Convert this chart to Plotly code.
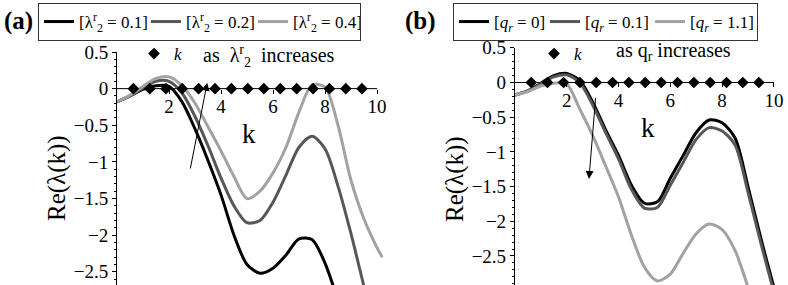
import plotly.graph_objects as go

# ---------------- data ----------------
k_grid = [0, 0.5, 1, 1.5, 2, 2.5, 3, 3.5, 4, 4.5, 5, 5.5, 6, 6.5, 7, 7.5, 8, 8.5, 9, 9.5, 10, 10.2]

# panel (a): lambda_2^r = 0.1, 0.2, 0.4
a_labels = ["[λ<sup>r</sup><sub>2</sub> = 0.1]", "[λ<sup>r</sup><sub>2</sub> = 0.2]", "[λ<sup>r</sup><sub>2</sub> = 0.4]"]
a_l01 = [-0.18, -0.10, -0.01, 0.04, 0.03, -0.18, -0.55, -0.98, -1.45, -2.00, -2.40, -2.52, -2.45, -2.27,
         -2.05, -2.06, -2.38, -2.88, -3.30, -3.70, -4.10, -4.20]
a_l02 = [-0.18, -0.10, 0.01, 0.10, 0.10, -0.06, -0.38, -0.78, -1.22, -1.60, -1.83, -1.80, -1.55, -1.18,
         -0.80, -0.65, -0.82, -1.33, -1.98, -2.70, -3.40, -3.60]
a_l04 = [-0.18, -0.09, 0.03, 0.14, 0.16, 0.04, -0.20, -0.52, -0.85, -1.20, -1.50, -1.40, -1.15, -0.80,
         -0.32, 0.05, 0.02, -0.50, -1.25, -1.78, -2.17, -2.30]

# panel (b): q_r = 0, 0.1, 1.1
b_labels = ["[<i>q<sub>r</sub></i> = 0]", "[<i>q<sub>r</sub></i> = 0.1]", "[<i>q<sub>r</sub></i> = 1.1]"]
b_q0 = [-0.18, -0.12, -0.01, 0.10, 0.13, 0.03, -0.28, -0.68, -1.05, -1.48, -1.74, -1.72, -1.38, -1.05,
        -0.72, -0.54, -0.58, -0.80, -1.50, -2.25, -2.95, -3.20]
b_q01 = [-0.18, -0.12, -0.02, 0.08, 0.11, 0.00, -0.32, -0.72, -1.10, -1.54, -1.81, -1.80, -1.48, -1.15,
         -0.82, -0.65, -0.70, -0.90, -1.58, -2.32, -3.02, -3.30]
b_q11 = [-0.18, -0.13, -0.05, -0.01, -0.02, -0.38, -0.76, -1.20, -1.65, -2.20, -2.66, -2.86, -2.76, -2.46,
         -2.18, -2.04, -2.12, -2.42, -2.95, -3.50, -4.00, -4.20]

# discrete wavenumbers (diamonds on the k axis)
k_pts = [0.63, 1.26, 1.88, 2.51, 3.14, 3.77, 4.40, 5.03, 5.65, 6.28, 6.91, 7.54, 8.17, 8.80, 9.42]
k_zero = [0] * len(k_pts)

x_ticks = [2, 4, 6, 8, 10]

# ---------------- styling ----------------
W, H = 788, 285
SERIF = "Liberation Serif, Times New Roman, serif"
colors = ["#000000", "#575757", "#a2a2a2"]
a_legw = [62, 62, 62]
b_legw = [46, 60, 62]

def px_x(p):
    return p / W

def px_y(p):
    return 1 - p / H

# panel geometry (pixels)
A_X0, A_SCALE = 117.0, 26.0
A_YTOP, A_RANGE = 52.0, [-2.68, 0.5]
B_X0, B_SCALE = 514.9, 25.9
B_YTOP, B_RANGE = 47.8, [-2.918, 0.5]
X_RANGE = [0, 10.25]

a_xdom = [px_x(A_X0), px_x(A_X0 + A_SCALE * X_RANGE[1])]
b_xdom = [px_x(B_X0), px_x(B_X0 + B_SCALE * X_RANGE[1])]
a_ydom = [0, px_y(A_YTOP)]
b_ydom = [0, px_y(B_YTOP)]

def zero_pos(dom, rng):
    return dom[0] + (0 - rng[0]) / (rng[1] - rng[0]) * (dom[1] - dom[0])

fig = go.Figure()

for ys, name, c, lw in zip([a_l01, a_l02, a_l04], a_labels, colors, a_legw):
    fig.add_trace(go.Scatter(x=k_grid, y=ys, mode="lines", name=name,
                             line=dict(color=c, width=3, shape="spline", smoothing=0.8),
                             xaxis="x", yaxis="y", legend="legend", legendwidth=lw))
fig.add_trace(go.Scatter(x=k_pts, y=k_zero, mode="markers", name="<i>k</i>",
                         marker=dict(symbol="diamond", size=9, color="black"),
                         xaxis="x", yaxis="y", legend="legend3", cliponaxis=False))

for ys, name, c, lw in zip([b_q0, b_q01, b_q11], b_labels, colors, b_legw):
    fig.add_trace(go.Scatter(x=k_grid, y=ys, mode="lines", name=name,
                             line=dict(color=c, width=3, shape="spline", smoothing=0.8),
                             xaxis="x2", yaxis="y2", legend="legend2", legendwidth=lw))
fig.add_trace(go.Scatter(x=k_pts, y=k_zero, mode="markers", name="<i>k</i>",
                         marker=dict(symbol="diamond", size=9, color="black"),
                         xaxis="x2", yaxis="y2", legend="legend4", cliponaxis=False))

tickfont = dict(family=SERIF, size=19, color="black")

def xaxis_cfg(dom, ydom, yrng):
    return dict(domain=dom, range=X_RANGE, anchor="free", position=zero_pos(ydom, yrng),
                tickmode="array", tickvals=x_ticks, ticks="outside", ticklen=4, tickcolor="black",
                ticklabelstandoff=-3,
                showline=False, showgrid=False, zeroline=False, tickfont=tickfont, automargin=False)

def yaxis_cfg(dom, rng, anchor_x):
    return dict(domain=dom, range=rng, anchor=anchor_x, dtick=0.5, tick0=0,
                ticks="outside", ticklen=4, tickcolor="black",
                showline=True, linecolor="black", linewidth=1,
                showgrid=False, zeroline=False, tickfont=tickfont, automargin=False,
                minor=dict(dtick=0.1, tick0=0, ticks="outside", ticklen=2, tickcolor="black"))

legend_common = dict(orientation="h", xanchor="left", yanchor="top",
                     bordercolor="#333333", borderwidth=1, bgcolor="white",
                     font=dict(family=SERIF, size=17, color="black"),
                     itemwidth=30, tracegroupgap=0)

fig.update_layout(
    template="none",
    width=W, height=H,
    font=dict(family=SERIF, color="black"),
    margin=dict(l=0, r=0, t=0, b=0, autoexpand=False),
    paper_bgcolor="white", plot_bgcolor="rgba(0,0,0,0)",
    xaxis=xaxis_cfg(a_xdom, a_ydom, A_RANGE),
    yaxis=yaxis_cfg(a_ydom, A_RANGE, "x"),
    xaxis2=xaxis_cfg(b_xdom, b_ydom, B_RANGE),
    yaxis2=yaxis_cfg(b_ydom, B_RANGE, "x2"),
    legend=dict(x=px_x(38), y=px_y(3), **legend_common),
    legend2=dict(x=px_x(453), y=px_y(3), **legend_common),
    legend3=dict(x=px_x(134), y=px_y(36), orientation="h", xanchor="left", yanchor="top",
                 bgcolor="rgba(0,0,0,0)", borderwidth=0, itemwidth=30,
                 font=dict(family=SERIF, size=17, color="black")),
    legend4=dict(x=px_x(534), y=px_y(36), orientation="h", xanchor="left", yanchor="top",
                 bgcolor="rgba(0,0,0,0)", borderwidth=0, itemwidth=30,
                 font=dict(family=SERIF, size=17, color="black")),
    showlegend=True,
)

# x axis lines through y = 0 (from 0 to 10)
for xr, yr in [("x", "y"), ("x2", "y2")]:
    fig.add_shape(type="line", xref=xr, yref=yr, x0=0, x1=10, y0=0, y1=0,
                  line=dict(color="black", width=1), layer="below")

C = dict(xanchor="center", yanchor="middle", showarrow=False)
ann = []
# panel labels
ann.append(dict(text="<b>(a)</b>", x=px_x(18), y=px_y(21), xref="paper", yref="paper",
                font=dict(family=SERIF, size=25, color="black"), **C))
ann.append(dict(text="<b>(b)</b>", x=px_x(420), y=px_y(21), xref="paper", yref="paper",
                font=dict(family=SERIF, size=25, color="black"), **C))
# y titles
ann.append(dict(text="Re(λ(k))", x=px_x(57), y=px_y(178), xref="paper", yref="paper",
                textangle=-90, font=dict(family=SERIF, size=25, color="black"), **C))
ann.append(dict(text="Re(λ(k))", x=px_x(455), y=px_y(179), xref="paper", yref="paper",
                textangle=-90, font=dict(family=SERIF, size=25, color="black"), **C))
# k labels
ann.append(dict(text="k", x=5.06, y=-0.62, xref="x", yref="y",
                font=dict(family=SERIF, size=27, color="black"), **C))
ann.append(dict(text="k", x=5.13, y=-0.65, xref="x2", yref="y2",
                font=dict(family=SERIF, size=27, color="black"), **C))
# "as ... increases"
ann.append(dict(text="as  λ<sup>r</sup><sub>2</sub>  increases", x=5.85, y=0.44, xref="x", yref="y",
                font=dict(family=SERIF, size=20, color="black"), **C))
ann.append(dict(text="as q<sub>r</sub> increases", x=6.14, y=0.44, xref="x2", yref="y2",
                font=dict(family=SERIF, size=20, color="black"), **C))
# arrows
ann.append(dict(x=3.47, y=0.08, ax=2.81, ay=-1.11, xref="x", yref="y", axref="x", ayref="y",
                text="", showarrow=True, arrowhead=2, arrowsize=1.6, arrowwidth=1, arrowcolor="black"))
ann.append(dict(x=2.86, y=-1.39, ax=3.12, ay=-0.2, xref="x2", yref="y2", axref="x2", ayref="y2",
                text="", showarrow=True, arrowhead=2, arrowsize=1.6, arrowwidth=1, arrowcolor="black"))
fig.update_layout(annotations=ann)

fig.write_html("out.html", config={"displayModeBar": False},
               post_script="document.body.style.margin='0';document.body.style.overflow='hidden';")
